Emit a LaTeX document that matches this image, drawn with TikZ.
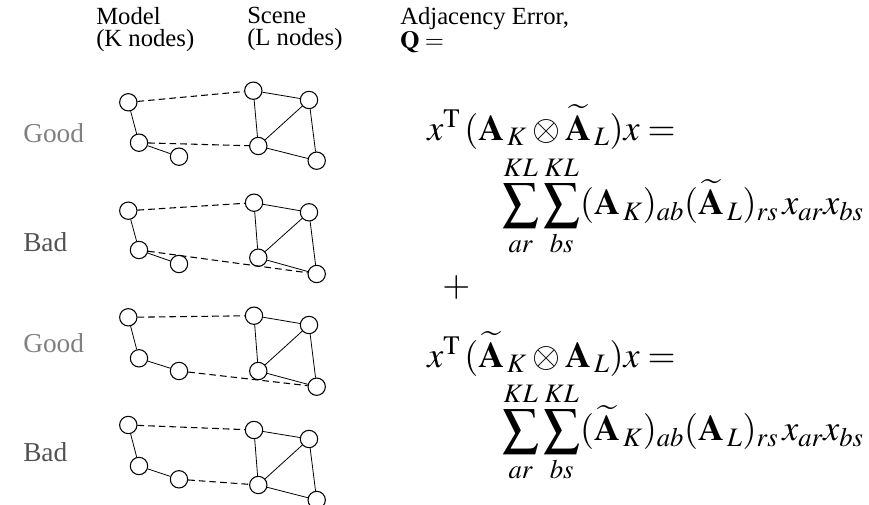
\documentclass[tikz,border=0pt]{standalone}
\usepackage{mathptmx}
\usepackage[no-math]{fontspec}
\setmainfont{Liberation Serif}
\usetikzlibrary{calc}
\tikzset{
  gn/.style={circle,draw,line width=0.8pt,fill=white,inner sep=0pt,minimum size=13pt},
  se/.style={line width=0.6pt},
  de/.style={line width=0.8pt,dash pattern=on 5pt off 3pt},
  hdr/.style={anchor=north west,align=left,inner sep=0pt,font=\fontsize{18.5}{16.5}\selectfont},
  lab/.style={anchor=west,inner sep=0pt,font=\fontsize{20.5}{24}\selectfont},
  eq/.style={anchor=west,inner sep=0pt,font=\fontsize{27}{32}\selectfont},
}
\newcommand\lowlim[1]{\rule{0pt}{14pt}#1}
\begin{document}
\begin{tikzpicture}[x=0.75pt,y=-0.75pt]
\useasboundingbox (0,0) rectangle (869,505);
% headers
\node[hdr] (hm) at (96,7) {Model\\(K nodes)};
\node[hdr] (hs) at (247,7) {Scene\\(L nodes)};
\node[hdr] (ha) at (400,7) {Adjacency Error,\\$\mathbf{Q}=$};
% row labels
\node[lab,text=black!50] (l1) at (23,133) {Good};
\node[lab,text=black!68] (l2) at (23,242) {Bad};
\node[lab,text=black!50] (l3) at (23,343) {Good};
\node[lab,text=black!68] (l4) at (23,452) {Bad};
% row 1
\node[gn] (a1) at (128.3,102.3) {}; \node[gn] (b1) at (139,142.7) {}; \node[gn] (c1) at (179,156.7) {};
\node[gn] (d1) at (253.3,90.7) {}; \node[gn] (e1) at (309,100) {}; \node[gn] (f1) at (258.3,146) {}; \node[gn] (g1) at (316.7,160.7) {};
% row 2
\node[gn] (a2) at (128.3,210.7) {}; \node[gn] (b2) at (139,250) {}; \node[gn] (c2) at (179,264) {};
\node[gn] (d2) at (254,202.7) {}; \node[gn] (e2) at (309,212.3) {}; \node[gn] (f2) at (258.3,257.7) {}; \node[gn] (g2) at (316.7,274) {};
% row 3
\node[gn] (a3) at (128.3,317.3) {}; \node[gn] (b3) at (139,358.3) {}; \node[gn] (c3) at (179,371) {};
\node[gn] (d3) at (254,315.7) {}; \node[gn] (e3) at (309,325) {}; \node[gn] (f3) at (258.3,371) {}; \node[gn] (g3) at (316.7,386.7) {};
% row 4
\node[gn] (a4) at (128.3,425) {}; \node[gn] (b4) at (139,466) {}; \node[gn] (c4) at (179,479.3) {};
\node[gn] (d4) at (254,430) {}; \node[gn] (e4) at (309,439) {}; \node[gn] (f4) at (258.3,485) {}; \node[gn] (g4) at (316.7,500) {};
% solid edges
\foreach \r in {1,2,3,4}{
  \draw[se] (a\r) -- (b\r);
  \draw[se] (b\r) -- (c\r);
  \draw[se] (d\r) -- (e\r);
  \draw[se] (d\r) -- (f\r);
  \draw[se] (e\r) -- (f\r);
  \draw[se] (f\r) -- (g\r);
  \draw[se] (e\r) -- (g\r);
  \draw[de] (a\r) -- (d\r);
}
% correspondences
\draw[de] (b1) -- (f1);
\draw[de] (b2) -- (g2);
\draw[de] (c3) -- (g3);
\draw[de] (c4) -- (f4);
% equations
\node[eq] (q1) at (427,127) {$x^{\mathrm{T}}\,(\mathbf{A}_{\,K}\otimes\widetilde{\mathbf{A}}_{\,L})x=$};
\node[eq] (s1) at (502,206) {$\displaystyle\sum_{\lowlim{ar}}^{KL}\sum_{\lowlim{bs}}^{KL}(\mathbf{A}_{\,K})_{ab}(\widetilde{\mathbf{A}}_{\,L})_{rs}\,x_{ar}x_{bs}$};
\node[eq] (pl) at (442,288) {$+$};
\node[eq] (q2) at (427,354) {$x^{\mathrm{T}}\,(\widetilde{\mathbf{A}}_{\,K}\otimes\mathbf{A}_{\,L})x=$};
\node[eq] (s2) at (502,432) {$\displaystyle\sum_{\lowlim{ar}}^{KL}\sum_{\lowlim{bs}}^{KL}(\widetilde{\mathbf{A}}_{\,K})_{ab}(\mathbf{A}_{\,L})_{rs}\,x_{ar}x_{bs}$};
\end{tikzpicture}
\end{document}
